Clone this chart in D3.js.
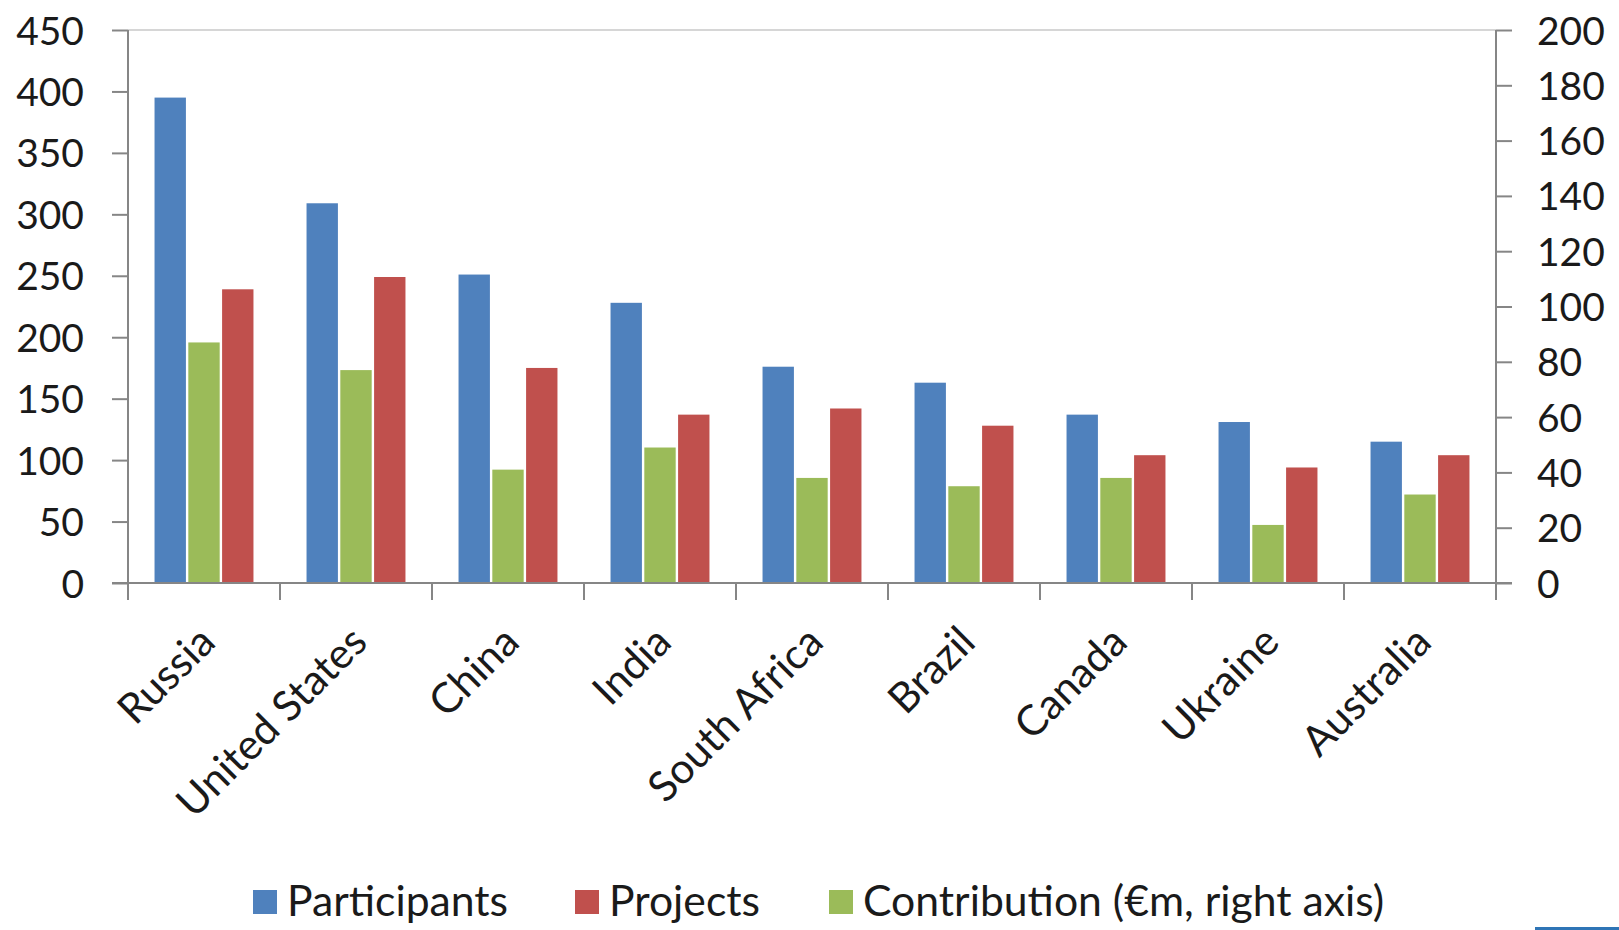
<!DOCTYPE html>
<html>
<head>
<meta charset="utf-8">
<script src="https://cdn.jsdelivr.net/npm/d3@7"></script>
<style>
  html, body { margin: 0; padding: 0; background: #fff; }
  svg { display: block; }
  text { font-family: Lato, "Open Sans", sans-serif; fill: #1a1a1a; }
</style>
</head>
<body>
<svg id="chart" width="1619" height="930"></svg>
<script>
const categories = ["Russia", "United States", "China", "India", "South Africa", "Brazil", "Canada", "Ukraine", "Australia"];
const participants = [395, 309, 251, 228, 176, 163, 137, 131, 115];
const projects = [239, 249, 175, 137, 142, 128, 104, 94, 104];
const contribution = [87, 77, 41, 49, 38, 35, 38, 21, 32];
const leftTicks = [0, 50, 100, 150, 200, 250, 300, 350, 400, 450];
const rightTicks = [0, 20, 40, 60, 80, 100, 120, 140, 160, 180, 200];
const seriesNames = ["Participants", "Projects", "Contribution (€m, right axis)"];
const colors = { Participants: "#4f81bd", Projects: "#c0504d", Contribution: "#9bbb59" };

const svg = d3.select("#chart");
const L = 128, R = 1496, T = 30, B = 583;
const axisColor = "#868686";

const x0 = d3.scaleBand().domain(categories).range([L, R]).paddingInner(0).paddingOuter(0);
const x1 = d3.scaleBand().domain(["Participants", "Contribution", "Projects"])
  .range([0, x0.bandwidth()]).paddingInner(0).paddingOuter(0.75);
const yL = d3.scaleLinear().domain([0, 450]).range([B, T]);
const yR = d3.scaleLinear().domain([0, 200]).range([B, T]);

// plot area top border
svg.append("line").attr("x1", L).attr("x2", R).attr("y1", T).attr("y2", T)
  .attr("stroke", "#c8c8c8").attr("stroke-width", 1.5);

// bars
const rows = categories.map((c, i) => ({ c, vals: [
  { key: "Participants", v: participants[i], y: yL },
  { key: "Contribution", v: contribution[i], y: yR },
  { key: "Projects", v: projects[i], y: yL }
]}));
const g = svg.append("g");
rows.forEach(r => {
  r.vals.forEach(d => {
    g.append("rect")
      .attr("x", x0(r.c) + x1(d.key) + 1.2)
      .attr("width", x1.bandwidth() - 2.4)
      .attr("y", d.y(d.v))
      .attr("height", B - d.y(d.v))
      .attr("fill", colors[d.key]);
  });
});

// left axis
const axL = svg.append("g").attr("transform", `translate(${L},0)`)
  .call(d3.axisLeft(yL).tickValues(leftTicks).tickSize(16).tickPadding(28).tickFormat(d3.format("d")));
axL.select(".domain").attr("stroke", axisColor).attr("stroke-width", 2).attr("d", `M0,${T}V${B + 17}`);
axL.selectAll(".tick line").attr("stroke", axisColor).attr("stroke-width", 2);
axL.selectAll(".tick text").style("font-size", "39px").attr("dy", "0.36em").attr("fill", "#1a1a1a");

// right axis
const axR = svg.append("g").attr("transform", `translate(${R},0)`)
  .call(d3.axisRight(yR).tickValues(rightTicks).tickSize(16).tickPadding(25).tickFormat(d3.format("d")));
axR.select(".domain").attr("stroke", axisColor).attr("stroke-width", 2).attr("d", `M0,${T}V${B + 17}`);
axR.selectAll(".tick line").attr("stroke", axisColor).attr("stroke-width", 2);
axR.selectAll(".tick text").style("font-size", "39px").attr("dy", "0.36em").attr("fill", "#1a1a1a");

// bottom axis: baseline + category boundary ticks
svg.append("line").attr("x1", L - 16).attr("x2", R + 16).attr("y1", B).attr("y2", B)
  .attr("stroke", axisColor).attr("stroke-width", 2);
const bounds = categories.map(c => x0(c)).concat([R]);
svg.append("g").selectAll("line").data(bounds).join("line")
  .attr("x1", d => d).attr("x2", d => d).attr("y1", B).attr("y2", B + 17)
  .attr("stroke", axisColor).attr("stroke-width", 2);

// category labels rotated -45
svg.append("g").selectAll("text").data(categories).join("text")
  .attr("transform", d => `translate(${x0(d) + x0.bandwidth() / 2 + 3},${634}) rotate(-45)`)
  .attr("text-anchor", "end")
  .attr("dy", "0.35em")
  .style("font-size", "42px")
  .text(d => d);

// legend
const legendItems = [
  { name: seriesNames[0], color: colors.Participants, x: 253 },
  { name: seriesNames[1], color: colors.Projects, x: 575 },
  { name: seriesNames[2], color: colors.Contribution, x: 829 }
];
const lg = svg.append("g");
legendItems.forEach(it => {
  lg.append("rect").attr("x", it.x).attr("y", 890).attr("width", 24).attr("height", 24).attr("fill", it.color);
  lg.append("text").attr("x", it.x + 34).attr("y", 916).style("font-size", "42.7px").text(it.name);
});

// small blue edge line at bottom right
svg.append("rect").attr("x", 1535).attr("y", 927).attr("width", 84).attr("height", 3).attr("fill", "#2e75b6");
</script>
</body>
</html>
